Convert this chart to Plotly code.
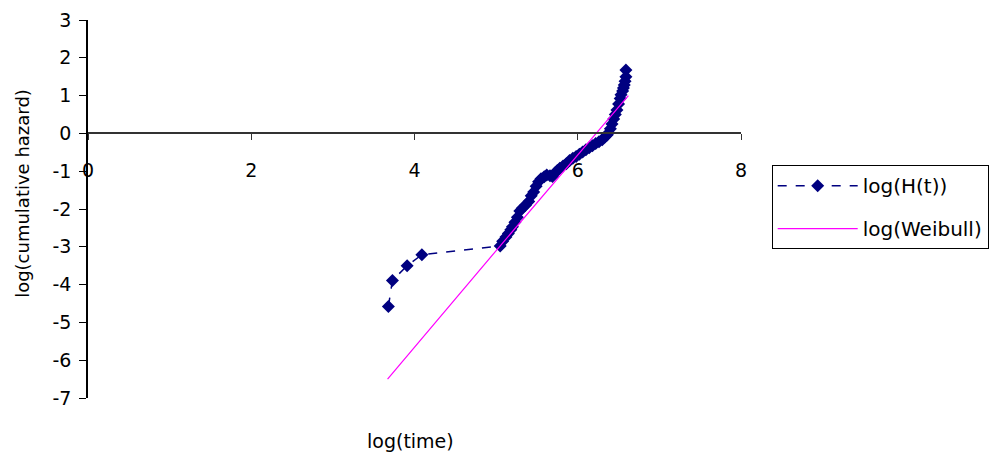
import plotly.graph_objects as go

# Observed cumulative hazard (log scale)
log_time = [3.68, 3.73, 3.91, 4.09, 5.05, 5.08, 5.12, 5.15, 5.18, 5.20, 5.23, 5.26,
            5.29, 5.32, 5.36, 5.40, 5.43, 5.46, 5.49, 5.52, 5.55, 5.59, 5.62, 5.66,
            5.69, 5.72, 5.75, 5.78, 5.82, 5.86, 5.90, 5.94, 5.98, 6.02, 6.06, 6.10,
            6.14, 6.18, 6.22, 6.26, 6.30, 6.33, 6.36, 6.38, 6.40, 6.42, 6.44, 6.46,
            6.48, 6.50, 6.52, 6.53, 6.55, 6.56, 6.57, 6.58, 6.59, 6.59]
log_H = [-4.58, -3.89, -3.50, -3.21, -2.98, -2.85, -2.74, -2.65, -2.55, -2.47, -2.35, -2.22,
         -2.05, -1.98, -1.90, -1.80, -1.65, -1.55, -1.40, -1.28, -1.20, -1.15, -1.10, -1.12,
         -1.14, -1.05, -0.98, -0.92, -0.86, -0.80, -0.72, -0.66, -0.61, -0.55, -0.49, -0.43,
         -0.38, -0.33, -0.27, -0.22, -0.17, -0.10, -0.04, 0.02, 0.12, 0.25, 0.38, 0.50,
         0.62, 0.78, 0.92, 1.02, 1.12, 1.20, 1.28, 1.38, 1.50, 1.68]

# Fitted Weibull line
weib_time = [3.67, 5.04, 6.62]
weib_val = [-6.50, -3.00, 1.00]

# Axis ticks
x_ticks = [0, 2, 4, 6, 8]
y_ticks = [-7, -6, -5, -4, -3, -2, -1, 0, 1, 2, 3]
y_ticktext = ["-7", "-6", "-5", "-4", "-3", "-2", "-1", "0", "1", "2", "3"]

FONT = "DejaVu Sans, Verdana, sans-serif"

fig = go.Figure()
fig.add_trace(go.Scatter(
    x=log_time, y=log_H, name="log(H(t))", mode="lines+markers",
    legendgroup="a",
    line=dict(color="#000080", width=1.5, dash="dash"),
    marker=dict(symbol="diamond", size=10, color="#000080"),
))
fig.add_trace(go.Scatter(
    x=weib_time, y=weib_val, name="log(Weibull)", mode="lines",
    legendgroup="b",
    line=dict(color="#FF00FF", width=1.2),
))

fig.update_layout(
    width=991, height=459,
    margin=dict(l=88, r=250, t=20, b=61, autoexpand=False),
    paper_bgcolor="white", plot_bgcolor="white",
    font=dict(family=FONT, size=19, color="black"),
    showlegend=True,
    legend=dict(
        x=1.047, y=0.616, xanchor="left", yanchor="top",
        bordercolor="black", borderwidth=1, bgcolor="white",
        itemwidth=80, font=dict(size=20),
        tracegroupgap=14,
    ),
    xaxis=dict(
        range=[0, 8], tickvals=x_ticks,
        showline=True, linecolor="#333333", linewidth=2,
        ticks="outside", ticklen=6, tickcolor="#333333",
        anchor="free", position=0.7,
        showgrid=False, zeroline=False, automargin=False,
        ticklabelstandoff=14,
    ),
    yaxis=dict(
        range=[-7, 3], tickvals=y_ticks, ticktext=y_ticktext,
        showline=True, linecolor="black", linewidth=1.5,
        ticks="outside", ticklen=7, tickcolor="black",
        showgrid=False, zeroline=False, automargin=False,
        ticklabelstandoff=4,
    ),
    annotations=[
        dict(text="log(time)", xref="paper", yref="paper", x=0.4946, y=-0.114,
             xanchor="center", yanchor="middle", showarrow=False,
             font=dict(size=19)),
        dict(text="log(cumulative hazard)", xref="paper", yref="paper",
             x=-0.1015, y=0.542, xanchor="center", yanchor="middle",
             textangle=-90, showarrow=False, font=dict(size=18)),
    ],
)

fig.write_html("out.html")
